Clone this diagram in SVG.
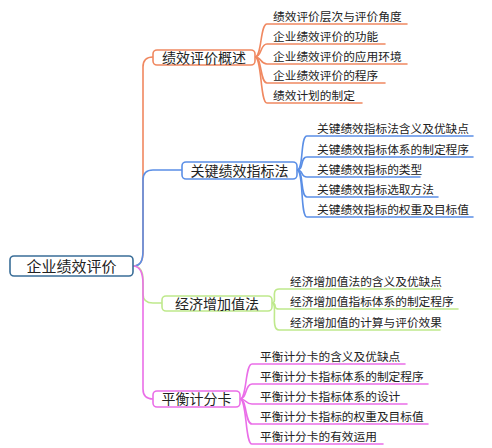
<svg xmlns="http://www.w3.org/2000/svg" width="492" height="448" viewBox="0 0 492 448">
<style>
text{font-family:"Noto Sans CJK SC","Noto Sans CJK TC",sans-serif;fill:#222}
.root{font-size:15px}
.br{font-size:14px}
.lf{font-size:11.7px}
.c{fill:none;stroke-width:1.6;stroke-linecap:round}
.o{stroke:#f08860}.b{stroke:#5b8fe6}.g{stroke:#bfe98c}.p{stroke:#ea6ee8}
.box{fill:#fff;stroke-width:1.6}
</style>
<rect width="492" height="448" fill="#fff"/>
<g id="connectors">
<path class="c o" d="M133,266 C140,266 143,262 143,252 L143,67 Q143,57 153,57"/>
<path class="c b" d="M133,266 C140,266 143,262 143,250 L143,180 Q143,170 153,170 L182,170"/>
<path class="c g" d="M133,266 C140,266 143,270 143,280 L143,294 Q143,303 153,303 L162,303"/>
<path class="c p" d="M133,266 C140,266 143,272 143,284 L143,389 Q143,399 153,399"/>
<path class="c o" d="M255,57 C262,57 260,24 267,24 H407"/>
<path class="c o" d="M255,57 C262,57 260,44 267,44 H385"/>
<path class="c o" d="M255,57 C262,57 260,64 267,64 H407"/>
<path class="c o" d="M255,57 C262,57 260,83 267,83 H385"/>
<path class="c o" d="M255,57 C262,57 260,103 267,103 H362"/>
<path class="c b" d="M297,170 C304,170 300,136 307,136 H473"/>
<path class="c b" d="M297,170 C304,170 300,157 307,157 H473"/>
<path class="c b" d="M297,170 C304,170 300,177 307,177 H420"/>
<path class="c b" d="M297,170 C304,170 300,197 307,197 H438"/>
<path class="c b" d="M297,170 C304,170 300,217 307,217 H473"/>
<path class="c g" d="M272,303 C278,303 270,289 279,289 H440"/>
<path class="c g" d="M272,303 C278,303 272,309 279,309 H458"/>
<path class="c g" d="M272,303 C278,303 270,330 279,330 H440"/>
<path class="c p" d="M240,399 C247,399 245,364 252,364 H405"/>
<path class="c p" d="M240,399 C247,399 245,384 252,384 H428"/>
<path class="c p" d="M240,399 C247,399 245,404 252,404 H407"/>
<path class="c p" d="M240,399 C247,399 245,424 252,424 H428"/>
<path class="c p" d="M240,399 C247,399 245,444 252,444 H383"/>
</g>
<g id="root">
<rect class="box" x="10" y="256" width="123" height="20" rx="4" stroke="#3a6e98" stroke-width="2"/>
<text class="root" x="71.5" y="271.5" text-anchor="middle">企业绩效评价</text>
</g>
<g id="b1">
<rect class="box" x="153" y="50" width="102" height="15" rx="4" stroke="#f08860"/>
<text class="br" x="204" y="62.5" text-anchor="middle">绩效评价概述</text>
</g>
<g id="b1-1"><text class="lf" x="273" y="21">绩效评价层次与评价角度</text></g>
<g id="b1-2"><text class="lf" x="273" y="41">企业绩效评价的功能</text></g>
<g id="b1-3"><text class="lf" x="273" y="61">企业绩效评价的应用环境</text></g>
<g id="b1-4"><text class="lf" x="273" y="80">企业绩效评价的程序</text></g>
<g id="b1-5"><text class="lf" x="273" y="100">绩效计划的制定</text></g>
<g id="b2">
<rect class="box" x="182" y="162" width="115" height="17" rx="4" stroke="#5b8fe6"/>
<text class="br" x="239.5" y="175.5" text-anchor="middle">关键绩效指标法</text>
</g>
<g id="b2-1"><text class="lf" x="317" y="133">关键绩效指标法含义及优缺点</text></g>
<g id="b2-2"><text class="lf" x="317" y="154">关键绩效指标体系的制定程序</text></g>
<g id="b2-3"><text class="lf" x="317" y="174">关键绩效指标的类型</text></g>
<g id="b2-4"><text class="lf" x="317" y="194">关键绩效指标选取方法</text></g>
<g id="b2-5"><text class="lf" x="317" y="214">关键绩效指标的权重及目标值</text></g>
<g id="b3">
<rect class="box" x="162" y="296" width="110" height="15" rx="4" stroke="#bfe98c"/>
<text class="br" x="217" y="308.5" text-anchor="middle">经济增加值法</text>
</g>
<g id="b3-1"><text class="lf" x="290" y="286">经济增加值法的含义及优缺点</text></g>
<g id="b3-2"><text class="lf" x="290" y="306">经济增加值指标体系的制定程序</text></g>
<g id="b3-3"><text class="lf" x="290" y="327">经济增加值的计算与评价效果</text></g>
<g id="b4">
<rect class="box" x="153" y="391" width="87" height="16" rx="4" stroke="#ea6ee8"/>
<text class="br" x="196.5" y="404" text-anchor="middle">平衡计分卡</text>
</g>
<g id="b4-1"><text class="lf" x="260" y="361">平衡计分卡的含义及优缺点</text></g>
<g id="b4-2"><text class="lf" x="260" y="381">平衡计分卡指标体系的制定程序</text></g>
<g id="b4-3"><text class="lf" x="260" y="401">平衡计分卡指标体系的设计</text></g>
<g id="b4-4"><text class="lf" x="260" y="421">平衡计分卡指标的权重及目标值</text></g>
<g id="b4-5"><text class="lf" x="260" y="441">平衡计分卡的有效运用</text></g>
</svg>
